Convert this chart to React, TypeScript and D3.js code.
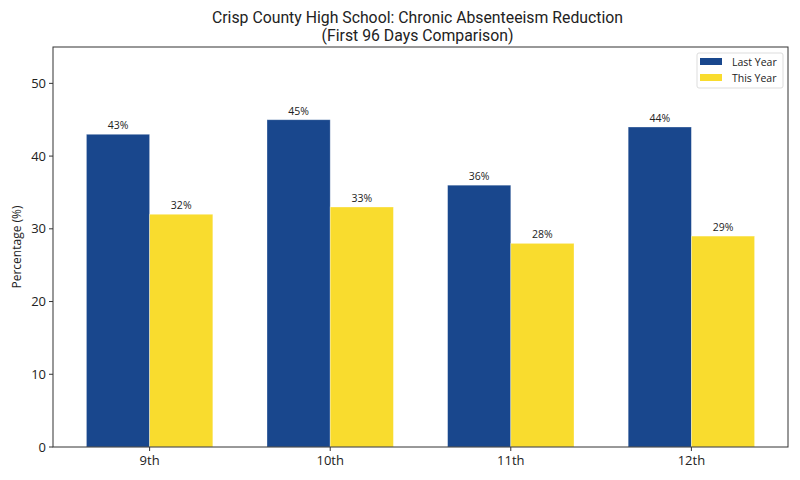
import React from "react";
import * as d3 from "d3";

const categories = ["9th", "10th", "11th", "12th"];
const lastYear = [43, 45, 36, 44];
const thisYear = [32, 33, 28, 29];
const seriesNames = ["Last Year", "This Year"];
const colors = ["#19478d", "#f9dc2e"];
const yTicks = [0, 10, 20, 30, 40, 50];
const titleLines = ["Crisp County High School: Chronic Absenteeism Reduction", "(First 96 Days Comparison)"];

const W = 800, H = 480;
const L = 53, R = 788, T = 47, B = 447;
const FONT = "'Open Sans', sans-serif";

export default function App() {
  const barW = 0.35;
  const x = d3.scaleLinear().domain([-0.535, 3.535]).range([L, R]);
  const y = d3.scaleLinear().domain([0, 55]).range([B, T]);
  const series = [lastYear, thisYear];
  const cx = (L + R) / 2 - 3;
  return (
    <svg width={W} height={H} style={{ position: "absolute", left: 0, top: 0, background: "#fff" }} fontFamily={FONT}>
      <text x={cx} y={23} textAnchor="middle" fontSize={15.8} fill="#222" fontFamily="Roboto, sans-serif">
        {titleLines[0]}
      </text>
      <text x={cx} y={41} textAnchor="middle" fontSize={15.8} fill="#222" fontFamily="Roboto, sans-serif">
        {titleLines[1]}
      </text>
      {series.map((vals, s) =>
        vals.map((v, i) => {
          const x0 = x(i - barW + s * barW);
          const x1 = x(i + s * barW);
          return (
            <g key={`${s}-${i}`}>
              <rect x={x0} y={y(v)} width={x1 - x0} height={y(0) - y(v)} fill={colors[s]} stroke="#ffffff" strokeOpacity={0.4} strokeWidth={0.8} />
              <text x={(x0 + x1) / 2} y={y(v) - 5} textAnchor="middle" fontSize={10.5} fill="#222">{v}%</text>
            </g>
          );
        })
      )}
      <rect x={L} y={T} width={R - L} height={B - T} fill="none" stroke="#333" strokeWidth={1} />
      {yTicks.map((t) => (
        <g key={t}>
          <line x1={L - 4} x2={L} y1={y(t)} y2={y(t)} stroke="#333" />
          <text x={L - 7} y={y(t)} dy="0.35em" textAnchor="end" fontSize={13} fill="#222">{t}</text>
        </g>
      ))}
      {categories.map((c, i) => (
        <g key={c}>
          <line x1={x(i)} x2={x(i)} y1={B} y2={B + 4} stroke="#333" />
          <text x={x(i)} y={B + 18} textAnchor="middle" fontSize={13} fill="#222">{c}</text>
        </g>
      ))}
      <text transform={`translate(21,${(T + B) / 2}) rotate(-90)`} textAnchor="middle" fontSize={12} fill="#222">
        Percentage (%)
      </text>
      <g>
        <rect x={697} y={53} width={86} height={35} rx={2} fill="#fff" stroke="#ddd" />
        {seriesNames.map((n, i) => (
          <g key={n}>
            <rect x={700} y={58 + i * 16} width={22} height={7} fill={colors[i]} />
            <text x={732} y={62 + i * 16} dy="0.35em" fontSize={10.5} fill="#222">{n}</text>
          </g>
        ))}
      </g>
    </svg>
  );
}
